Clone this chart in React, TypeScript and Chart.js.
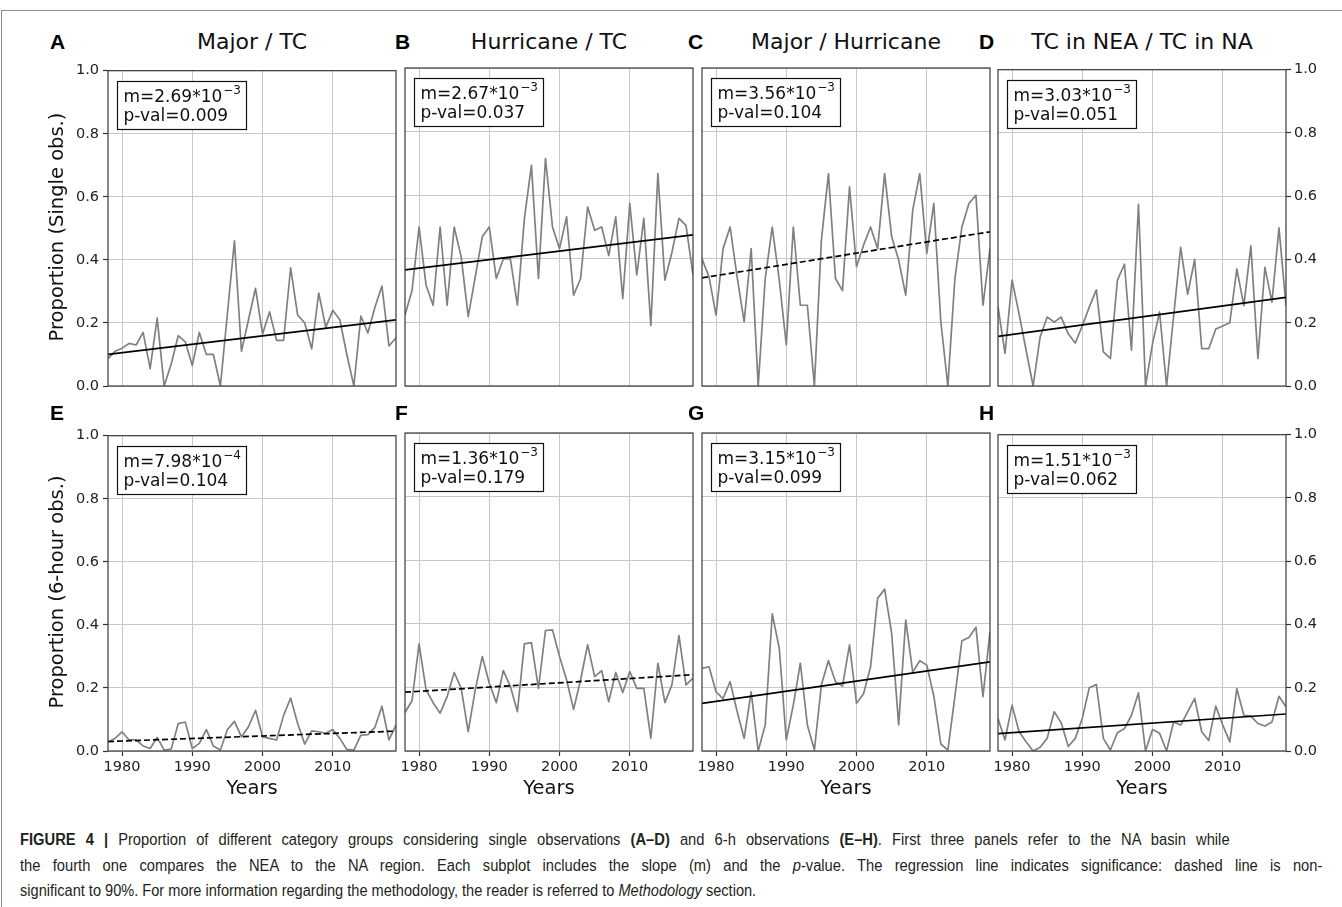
import React, { useEffect, useLayoutEffect, useRef } from "react";
import { Chart, registerables } from "chart.js";

Chart.register(...registerables);

// ---------- data ----------
const years = [
  1978, 1979, 1980, 1981, 1982, 1983, 1984, 1985, 1986, 1987,
  1988, 1989, 1990, 1991, 1992, 1993, 1994, 1995, 1996, 1997,
  1998, 1999, 2000, 2001, 2002, 2003, 2004, 2005, 2006, 2007,
  2008, 2009, 2010, 2011, 2012, 2013, 2014, 2015, 2016, 2017,
  2018, 2019,
];
const xTicks = [1980, 1990, 2000, 2010];
const yTicks = [0, 0.2, 0.4, 0.6, 0.8, 1.0];

const seriesA = [0.087, 0.11, 0.12, 0.135, 0.13, 0.17, 0.055, 0.215, 0, 0.07,
  0.16, 0.14, 0.065, 0.17, 0.1, 0.1, 0, 0.23, 0.46, 0.11,
  0.21, 0.31, 0.165, 0.235, 0.145, 0.145, 0.375, 0.225, 0.2, 0.118,
  0.295, 0.186, 0.24, 0.21, 0.1, 0, 0.222, 0.168, 0.25, 0.317,
  0.127, 0.153];
const seriesB = [0.223, 0.3, 0.5, 0.317, 0.254, 0.5, 0.254, 0.5, 0.406, 0.218,
  0.343, 0.469, 0.5, 0.338, 0.4, 0.4, 0.254, 0.527, 0.694, 0.338,
  0.715, 0.5, 0.432, 0.532, 0.286, 0.338, 0.563, 0.49, 0.5, 0.41,
  0.532, 0.275, 0.574, 0.349, 0.527, 0.19, 0.668, 0.333, 0.42, 0.527,
  0.505, 0.35];
const seriesC = [0.4, 0.343, 0.223, 0.432, 0.5, 0.343, 0.202, 0.432, 0, 0.338,
  0.5, 0.333, 0.129, 0.5, 0.254, 0.254, 0, 0.459, 0.668, 0.338,
  0.3, 0.626, 0.375, 0.443, 0.5, 0.432, 0.668, 0.469, 0.396, 0.286,
  0.553, 0.668, 0.417, 0.574, 0.202, 0, 0.338, 0.5, 0.574, 0.6,
  0.254, 0.432];
const seriesD = [0.25, 0.103, 0.335, 0.228, 0.113, 0, 0.155, 0.218, 0.202, 0.218,
  0.165, 0.136, 0.19, 0.25, 0.304, 0.108, 0.087, 0.335, 0.385, 0.113,
  0.574, 0, 0.134, 0.234, 0, 0.22, 0.438, 0.29, 0.4, 0.118,
  0.118, 0.18, 0.19, 0.2, 0.37, 0.254, 0.443, 0.087, 0.375, 0.265,
  0.5, 0.254];
const seriesE = [0.029, 0.04, 0.061, 0.035, 0.035, 0.016, 0.008, 0.043, 0.003, 0.006,
  0.087, 0.092, 0.008, 0.024, 0.068, 0.016, 0.003, 0.068, 0.094, 0.045,
  0.077, 0.129, 0.045, 0.04, 0.035, 0.113, 0.168, 0.087, 0.022, 0.064,
  0.061, 0.056, 0.068, 0.04, 0.005, 0.003, 0.05, 0.052, 0.075, 0.142,
  0.035, 0.082];
const seriesF = [0.121, 0.158, 0.337, 0.192, 0.152, 0.119, 0.171, 0.247, 0.197, 0.061,
  0.192, 0.297, 0.213, 0.152, 0.253, 0.203, 0.124, 0.337, 0.341, 0.197,
  0.379, 0.381, 0.297, 0.224, 0.131, 0.224, 0.334, 0.234, 0.253, 0.155,
  0.247, 0.184, 0.25, 0.197, 0.197, 0.04, 0.276, 0.152, 0.208, 0.363,
  0.208, 0.229];
const seriesG = [0.26, 0.265, 0.186, 0.165, 0.218, 0.124, 0.04, 0.186, 0, 0.082,
  0.431, 0.323, 0.035, 0.145, 0.276, 0.082, 0.003, 0.208, 0.284, 0.218,
  0.204, 0.334, 0.15, 0.18, 0.265, 0.48, 0.509, 0.37, 0.082, 0.412,
  0.248, 0.284, 0.27, 0.173, 0.022, 0.003, 0.171, 0.347, 0.357, 0.389,
  0.171, 0.375];
const seriesH = [0.103, 0.035, 0.145, 0.061, 0.029, 0, 0.012, 0.04, 0.124, 0.089,
  0.014, 0.04, 0.103, 0.2, 0.21, 0.04, 0.003, 0.058, 0.071, 0.113,
  0.184, 0, 0.068, 0.056, 0, 0.092, 0.082, 0.124, 0.166, 0.061,
  0.033, 0.142, 0.082, 0.029, 0.197, 0.113, 0.11, 0.087, 0.079, 0.092,
  0.173, 0.14];

// regression line values at first and last year
const trendA = [0.1, 0.21];
const trendB = [0.365, 0.475];
const trendC = [0.34, 0.485];
const trendD = [0.157, 0.28];
const trendE = [0.03, 0.063];
const trendF = [0.185, 0.24];
const trendG = [0.15, 0.28];
const trendH = [0.055, 0.117];

const slopeMantissa = ["2.69", "2.67", "3.56", "3.03", "7.98", "1.36", "3.15", "1.51"];
const slopeExponent = ["\u22123", "\u22123", "\u22123", "\u22123", "\u22124", "\u22123", "\u22123", "\u22123"];
const pValues = ["0.009", "0.037", "0.104", "0.051", "0.104", "0.179", "0.099", "0.062"];
const dashedTrend = [false, false, true, false, true, true, false, false];

const panelLetters = ["A", "B", "C", "D", "E", "F", "G", "H"];
const columnTitles = ["Major / TC", "Hurricane / TC", "Major / Hurricane", "TC in NEA / TC in NA"];
const rowLabels = ["Proportion (Single obs.)", "Proportion (6-hour obs.)"];
const xLabel = "Years";

const allSeries = [seriesA, seriesB, seriesC, seriesD, seriesE, seriesF, seriesG, seriesH];
const allTrends = [trendA, trendB, trendC, trendD, trendE, trendF, trendG, trendH];

// ---------- layout ----------
const PLOT_LEFTS = [108, 405, 702, 998];
const PLOT_TOPS = [68, 433];
const PW = 288;
const PH = 318;
const PAD_L = 50;
const PAD_R = 50;
const PAD_T = 10;
const PAD_B = 30;
const LETTER_X = [50, 395, 688, 979];
const FONT = '"DejaVu Sans", sans-serif';

const framePlugin = {
  id: "frame",
  afterDraw(chart: any) {
    const { ctx, chartArea: a } = chart;
    ctx.save();
    ctx.strokeStyle = "#3a3a3a";
    ctx.lineWidth = 1.2;
    ctx.strokeRect(a.left, a.top, a.right - a.left, a.bottom - a.top);
    ctx.restore();
  },
};

const makeAnnotation = (p: number) => ({
  id: "annot",
  afterDraw(chart: any) {
    const { ctx, chartArea: a } = chart;
    const main = `m=${slopeMantissa[p]}*10`;
    const sup = slopeExponent[p];
    const line2 = `p-val=${pValues[p]}`;
    ctx.save();
    ctx.font = `17px ${FONT}`;
    const w1 = ctx.measureText(main).width;
    const w2 = ctx.measureText(line2).width;
    ctx.font = `12px ${FONT}`;
    const ws = ctx.measureText(sup).width;
    const tw = Math.max(w1 + ws + 1, w2);
    const bx = Math.round(a.left + 9) + 0.5;
    const by = Math.round(a.top + 10) + 0.5;
    const bw = Math.round(tw + 12);
    const bh = 48;
    ctx.fillStyle = "#ffffff";
    ctx.fillRect(bx, by, bw, bh);
    ctx.strokeStyle = "#111111";
    ctx.lineWidth = 1.2;
    ctx.strokeRect(bx, by, bw, bh);
    ctx.fillStyle = "#111111";
    ctx.textAlign = "left";
    ctx.textBaseline = "alphabetic";
    ctx.font = `17px ${FONT}`;
    ctx.fillText(main, bx + 6, by + 20);
    ctx.fillText(line2, bx + 6, by + 39);
    ctx.font = `12px ${FONT}`;
    ctx.fillText(sup, bx + 6 + w1 + 1, by + 12);
    ctx.restore();
  },
});

function Panel({ p }: { p: number }) {
  const ref = useRef<HTMLCanvasElement | null>(null);
  const col = p % 4;
  const row = Math.floor(p / 4);
  const width = PW + PAD_L + PAD_R;
  const height = PH + PAD_T + PAD_B;

  useEffect(() => {
    const rightAxis = col === 3;
    const showY = col === 0 || col === 3;
    const showX = row === 1;
    const series = allSeries[p];
    const trend = allTrends[p];
    const tickFont = { family: FONT, size: 14.5 };
    const chart = new Chart(ref.current as HTMLCanvasElement, {
      type: "line",
      data: {
        datasets: [
          {
            data: [
              { x: years[0], y: trend[0] },
              { x: years[years.length - 1], y: trend[1] },
            ],
            borderColor: "#000000",
            borderWidth: 1.7,
            borderDash: dashedTrend[p] ? [6, 3] : [],
            pointRadius: 0,
            order: 0,
          },
          {
            data: years.map((yr, i) => ({ x: yr, y: series[i] })),
            borderColor: "#808080",
            borderWidth: 1.7,
            borderJoinStyle: "round",
            pointRadius: 0,
            tension: 0,
            order: 1,
          },
        ],
      },
      options: {
        animation: false,
        responsive: false,
        devicePixelRatio: 1,
        layout: {
          padding: {
            left: rightAxis ? PAD_L : 0,
            right: rightAxis ? 0 : PAD_R,
            top: PAD_T,
            bottom: 0,
          },
        },
        plugins: {
          legend: { display: false },
          tooltip: { enabled: false },
          title: { display: false },
        },
        scales: {
          x: {
            type: "linear",
            min: years[0],
            max: years[years.length - 1],
            position: "bottom",
            afterBuildTicks: (s: any) => {
              s.ticks = xTicks.map((v) => ({ value: v }));
            },
            afterFit: (s: any) => {
              s.height = PAD_B;
            },
            ticks: {
              display: showX,
              font: tickFont,
              color: "#222222",
              padding: 3,
              maxRotation: 0,
              autoSkip: false,
              callback: (v: any) => String(v),
            },
            grid: {
              color: "#c8c8c8",
              lineWidth: 1,
              drawTicks: showX,
              tickLength: 5,
              tickColor: "#333333",
              tickWidth: 1.2,
            },
            border: { display: false },
          },
          y: {
            type: "linear",
            min: 0,
            max: 1,
            position: rightAxis ? "right" : "left",
            afterBuildTicks: (s: any) => {
              s.ticks = yTicks.map((v) => ({ value: v }));
            },
            afterFit: (s: any) => {
              s.width = rightAxis ? PAD_R : PAD_L;
            },
            ticks: {
              display: showY,
              font: tickFont,
              color: "#222222",
              padding: rightAxis ? 3 : 4,
              autoSkip: false,
              callback: (v: any) => Number(v).toFixed(1),
            },
            grid: {
              color: "#c8c8c8",
              lineWidth: 1,
              drawTicks: showY,
              tickLength: 5,
              tickColor: "#333333",
              tickWidth: 1.2,
            },
            border: { display: false },
          },
        },
      },
      plugins: [framePlugin, makeAnnotation(p)],
    } as any);
    return () => chart.destroy();
  }, [p]);

  return (
    <canvas
      ref={ref}
      width={width}
      height={height}
      style={{
        position: "absolute",
        left: PLOT_LEFTS[col] - PAD_L,
        top: PLOT_TOPS[row] - PAD_T,
        width,
        height,
      }}
    />
  );
}

// caption line widths (from x=20) in the reference
const captionTargets = [1210, 1302, 736];

function Caption() {
  const r0 = useRef<HTMLDivElement | null>(null);
  const r1 = useRef<HTMLDivElement | null>(null);
  const r2 = useRef<HTMLDivElement | null>(null);
  useLayoutEffect(() => {
    const els = [r0.current, r1.current, r2.current] as HTMLDivElement[];
    if (els.some((e) => !e)) return;
    els.forEach((el) => {
      el.style.transform = "none";
      el.style.wordSpacing = "0px";
    });
    els.forEach((el, i) => {
      const w = el.scrollWidth;
      if (w <= 0) return;
      if (i === 2) {
        el.style.transform = `scaleX(${captionTargets[i] / w})`;
      } else {
        const s = 0.92;
        const n = ((el.textContent || "").match(/ /g) || []).length;
        const deficit = captionTargets[i] / s - w;
        if (n > 0) el.style.wordSpacing = `${deficit / n}px`;
        el.style.transform = `scaleX(${s})`;
      }
    });
  }, []);
  const lineStyle: React.CSSProperties = {
    position: "absolute",
    left: 20,
    whiteSpace: "nowrap",
    display: "inline-block",
    transformOrigin: "0 50%",
    fontFamily: '"Liberation Sans", Arial, sans-serif',
    fontSize: 16,
    lineHeight: "26px",
    color: "#231f20",
  };
  return (
    <>
      <div ref={r0} style={{ ...lineStyle, top: 827 }}>
        <b>FIGURE 4 |</b> Proportion of different category groups considering single observations <b>(A–D)</b> and 6-h observations <b>(E–H)</b>. First three panels refer to the NA basin while
      </div>
      <div ref={r1} style={{ ...lineStyle, top: 853 }}>
        the fourth one compares the NEA to the NA region. Each subplot includes the slope (m) and the <i>p</i>-value. The regression line indicates significance: dashed line is non-
      </div>
      <div ref={r2} style={{ ...lineStyle, top: 878 }}>
        significant to 90%. For more information regarding the methodology, the reader is referred to <i>Methodology</i> section.
      </div>
    </>
  );
}

export default function App() {
  const panels = [0, 1, 2, 3, 4, 5, 6, 7];
  return (
    <div
      style={{
        position: "absolute",
        left: 0,
        top: 0,
        width: 1342,
        height: 907,
        overflow: "hidden",
        background: "#ffffff",
        fontFamily: FONT,
      }}
    >
      <div
        style={{
          position: "absolute",
          left: 1,
          top: 10,
          right: 0,
          height: 900,
          borderTop: "1px solid #8c8c8c",
          borderLeft: "1px solid #8c8c8c",
        }}
      />
      {panels.map((p) => (
        <Panel key={p} p={p} />
      ))}
      {columnTitles.map((t, c) => (
        <div
          key={"t" + c}
          style={{
            position: "absolute",
            left: PLOT_LEFTS[c],
            width: PW,
            top: 29,
            height: 26,
            lineHeight: "26px",
            textAlign: "center",
            fontSize: 22,
            color: "#111",
            whiteSpace: "nowrap",
          }}
        >
          {t}
        </div>
      ))}
      {panelLetters.map((l, i) => (
        <div
          key={"l" + i}
          style={{
            position: "absolute",
            left: LETTER_X[i % 4],
            top: (i < 4 ? 42 : 413) - 12,
            height: 24,
            lineHeight: "24px",
            fontFamily: '"Liberation Sans", Arial, sans-serif',
            fontWeight: "bold",
            fontSize: 21,
            color: "#000",
          }}
        >
          {l}
        </div>
      ))}
      {rowLabels.map((t, r) => (
        <div
          key={"r" + r}
          style={{
            position: "absolute",
            left: 57 - 200,
            top: PLOT_TOPS[r] + PH / 2 - 13,
            width: 400,
            height: 26,
            lineHeight: "26px",
            textAlign: "center",
            fontSize: 19.5,
            color: "#111",
            transform: "rotate(-90deg)",
            whiteSpace: "nowrap",
          }}
        >
          {t}
        </div>
      ))}
      {PLOT_LEFTS.map((x, c) => (
        <div
          key={"x" + c}
          style={{
            position: "absolute",
            left: x,
            width: PW,
            top: 788 - 13,
            height: 26,
            lineHeight: "26px",
            textAlign: "center",
            fontSize: 19.5,
            color: "#111",
          }}
        >
          {xLabel}
        </div>
      ))}
      <Caption />
    </div>
  );
}
